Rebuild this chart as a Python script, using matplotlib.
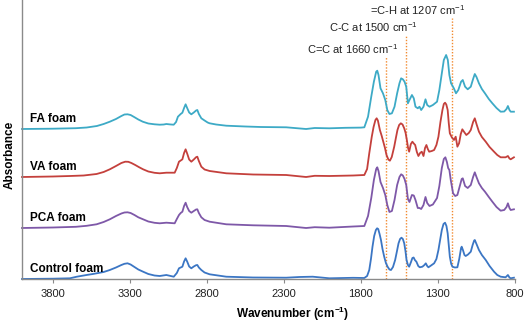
import matplotlib
matplotlib.use('Agg')
import matplotlib.pyplot as plt

plt.rcParams['font.family'] = ['Liberation Sans', 'DejaVu Sans']
plt.rcParams['mathtext.default'] = 'regular'

# FTIR spectra, absorbance above each trace's own baseline
fa_wn = [4000, 3800, 3650, 3580, 3514, 3470, 3430, 3390, 3355, 3335, 3315, 3295, 3270, 3245,
         3216, 3180, 3140, 3106, 3080, 3063, 3040, 3015, 3000, 2988, 2970, 2959, 2948, 2938,
         2928, 2915, 2901, 2885, 2870, 2862, 2852, 2836, 2815, 2795, 2782, 2740, 2674, 2550,
         2450, 2285, 2156, 2100, 2005, 1900, 1800,
         1778, 1754, 1733, 1716, 1701, 1694, 1686, 1673, 1657, 1642, 1629, 1615, 1599, 1582,
         1565, 1550, 1539, 1528, 1517, 1506, 1495, 1485, 1469, 1457, 1446, 1431, 1420, 1409,
         1394, 1381, 1370, 1355, 1333, 1306, 1291, 1275, 1262, 1247, 1236, 1226, 1215, 1197,
         1183, 1168, 1150, 1139, 1124, 1107, 1087, 1072, 1061, 1050, 1034, 1015, 995, 970, 947,
         920, 893, 870, 855, 846, 836, 828, 807]
fa_abs = [0, 0.003, 0.008, 0.015, 0.03, 0.05, 0.073, 0.10, 0.13, 0.145, 0.147, 0.14, 0.118,
          0.095, 0.073, 0.055, 0.047, 0.043, 0.045, 0.05, 0.046, 0.043, 0.07, 0.123, 0.15, 0.163,
          0.21, 0.247, 0.21, 0.165, 0.147, 0.165, 0.185, 0.19, 0.15, 0.107, 0.085, 0.065, 0.057,
          0.045, 0.033, 0.025, 0.02, 0.017, 0, 0.01, 0.007, 0.012, 0.014,
          0.017, 0.123, 0.323, 0.473, 0.573, 0.583, 0.54, 0.407, 0.357, 0.29, 0.19, 0.15, 0.157,
          0.223, 0.357, 0.457, 0.507, 0.497, 0.473, 0.423, 0.257, 0.29, 0.34, 0.307, 0.223,
          0.207, 0.223, 0.19, 0.223, 0.297, 0.24, 0.223, 0.24, 0.273, 0.39, 0.557, 0.69, 0.74,
          0.69, 0.54, 0.457, 0.407, 0.357, 0.39, 0.473, 0.49, 0.423, 0.397, 0.423, 0.50, 0.55,
          0.52, 0.457, 0.40, 0.357, 0.30, 0.257, 0.21, 0.173, 0.175, 0.20, 0.23, 0.19, 0.173,
          0.173]

va_wn = [4000, 3800, 3689, 3600, 3516, 3470, 3430, 3390, 3355, 3330, 3310, 3290, 3265, 3240,
         3214, 3180, 3140, 3106, 3063, 3009, 2995, 2981, 2965, 2959, 2948, 2938, 2928, 2915,
         2901, 2885, 2870, 2862, 2852, 2836, 2815, 2782, 2674, 2500, 2285, 2156, 2100, 2005,
         1850,
         1778, 1760, 1746, 1730, 1718, 1706, 1698, 1690, 1677, 1665, 1655, 1644, 1634, 1622,
         1612, 1600, 1584, 1572, 1563, 1552, 1541, 1530, 1519, 1510, 1502, 1494, 1487, 1476,
         1466, 1457, 1448, 1437, 1427, 1416, 1405, 1394, 1384, 1375, 1366, 1357, 1340, 1325,
         1310, 1297, 1284, 1271, 1262, 1254, 1246, 1237, 1230, 1223, 1210, 1196, 1185, 1174,
         1163, 1152, 1142, 1130, 1116, 1100, 1087, 1072, 1061, 1050, 1034, 1015, 990, 965, 936,
         915, 893, 861, 846, 836, 828, 807]
va_abs = [0, 0.005, 0.01, 0.015, 0.03, 0.05, 0.077, 0.11, 0.14, 0.153, 0.152, 0.14, 0.12, 0.098,
          0.077, 0.055, 0.042, 0.037, 0.043, 0.043, 0.09, 0.153, 0.17, 0.177, 0.24, 0.277, 0.235,
          0.175, 0.153, 0.175, 0.198, 0.203, 0.16, 0.103, 0.075, 0.06, 0.037, 0.025, 0.02, 0,
          0.012, 0.01, 0.015,
          0.02, 0.08, 0.237, 0.40, 0.50, 0.57, 0.587, 0.565, 0.47, 0.41, 0.353, 0.29, 0.22,
          0.175, 0.163, 0.20, 0.303, 0.40, 0.47, 0.52, 0.537, 0.525, 0.487, 0.44, 0.37, 0.29,
          0.253, 0.33, 0.353, 0.335, 0.32, 0.25, 0.21, 0.24, 0.253, 0.21, 0.29, 0.32, 0.28,
          0.253, 0.26, 0.27, 0.32, 0.403, 0.55, 0.67, 0.73, 0.743, 0.725, 0.67, 0.54, 0.437,
          0.397, 0.37, 0.403, 0.303, 0.337, 0.43, 0.477, 0.45, 0.42, 0.44, 0.47, 0.55, 0.587,
          0.53, 0.453, 0.40, 0.353, 0.30, 0.253, 0.22, 0.197, 0.197, 0.21, 0.185, 0.177, 0.197]

pca_wn = [4000, 3800, 3650, 3580, 3516, 3470, 3430, 3390, 3355, 3335, 3315, 3295, 3270, 3245,
          3214, 3180, 3140, 3106, 3063, 3009, 2995, 2981, 2970, 2959, 2948, 2938, 2928, 2915,
          2901, 2885, 2870, 2862, 2852, 2836, 2815, 2782, 2674, 2500, 2285, 2156, 2100, 2005,
          1850,
          1778, 1754, 1733, 1716, 1701, 1694, 1686, 1673, 1657, 1642, 1629, 1615, 1599, 1582,
          1565, 1550, 1539, 1528, 1517, 1506, 1495, 1485, 1469, 1457, 1446, 1431, 1420, 1409,
          1394, 1381, 1370, 1355, 1333, 1306, 1291, 1275, 1262, 1252, 1242, 1234, 1226, 1217,
          1202, 1188, 1174, 1160, 1146, 1139, 1124, 1107, 1087, 1072, 1061, 1050, 1034, 1015,
          995, 970, 947, 920, 893, 870, 855, 846, 836, 828, 807]
pca_abs = [0, 0.005, 0.012, 0.022, 0.037, 0.06, 0.087, 0.12, 0.145, 0.155, 0.157, 0.15, 0.13,
           0.107, 0.087, 0.065, 0.052, 0.047, 0.053, 0.047, 0.09, 0.13, 0.15, 0.163, 0.22, 0.253,
           0.21, 0.17, 0.153, 0.17, 0.185, 0.187, 0.15, 0.107, 0.08, 0.063, 0.037, 0.027, 0.02,
           0, 0.008, 0.003, 0.015,
           0.02, 0.12, 0.30, 0.48, 0.59, 0.607, 0.57, 0.46, 0.40, 0.33, 0.23, 0.16, 0.17, 0.28,
           0.43, 0.51, 0.537, 0.525, 0.49, 0.43, 0.29, 0.26, 0.33, 0.325, 0.28, 0.20, 0.20, 0.19,
           0.23, 0.31, 0.25, 0.22, 0.235, 0.30, 0.42, 0.60, 0.69, 0.707, 0.66, 0.60, 0.58, 0.48,
           0.347, 0.32, 0.33, 0.41, 0.49, 0.497, 0.42, 0.40, 0.43, 0.51, 0.557, 0.51, 0.447,
           0.40, 0.363, 0.31, 0.263, 0.21, 0.173, 0.18, 0.21, 0.247, 0.20, 0.18, 0.187]

ctrl_wn = [4000, 3800, 3689, 3644, 3581, 3540, 3470, 3430, 3390, 3355, 3335, 3315, 3295, 3270,
           3245, 3214, 3180, 3140, 3106, 3063, 3015, 2995, 2981, 2970, 2959, 2948, 2938, 2928,
           2915, 2901, 2885, 2870, 2862, 2852, 2836, 2815, 2782, 2674, 2500, 2285, 2200, 2113,
           2005, 1850,
           1778, 1760, 1746, 1735, 1725, 1714, 1703, 1695, 1688, 1679, 1670, 1660, 1649, 1638,
           1627, 1615, 1605, 1592, 1578, 1566, 1556, 1546, 1537, 1528, 1519, 1511, 1504, 1495,
           1487, 1475, 1466, 1458, 1450, 1440, 1428, 1418, 1401, 1388, 1379, 1370, 1362, 1345,
           1325, 1310, 1297, 1285, 1275, 1264, 1254, 1245, 1237, 1230, 1223, 1214, 1206, 1190,
           1174, 1162, 1150, 1146, 1138, 1128, 1120, 1105, 1087, 1075, 1065, 1061, 1050, 1034,
           1015, 990, 965, 936, 915, 893, 861, 846, 836, 828, 807]
ctrl_abs = [0, 0.003, 0.007, 0.023, 0.04, 0.05, 0.07, 0.09, 0.115, 0.14, 0.152, 0.157, 0.145,
            0.12, 0.095, 0.073, 0.05, 0.035, 0.03, 0.04, 0.023, 0.06, 0.107, 0.115, 0.123, 0.175,
            0.207, 0.175, 0.125, 0.107, 0.125, 0.138, 0.14, 0.115, 0.09, 0.065, 0.047, 0.023,
            0.015, 0.013, 0.02, 0.023, 0.007, 0.012,
            0.01, 0.03, 0.09, 0.20, 0.323, 0.43, 0.49, 0.507, 0.50, 0.45, 0.39, 0.30, 0.223, 0.16,
            0.123, 0.095, 0.09, 0.12, 0.19, 0.28, 0.357, 0.40, 0.413, 0.40, 0.357, 0.28, 0.19,
            0.14, 0.123, 0.17, 0.21, 0.215, 0.19, 0.173, 0.13, 0.117, 0.123, 0.14, 0.157, 0.13,
            0.117, 0.135, 0.157, 0.20, 0.29, 0.40, 0.49, 0.55, 0.563, 0.53, 0.457, 0.34, 0.223,
            0.15, 0.123, 0.115, 0.117, 0.20, 0.31, 0.323, 0.29, 0.24, 0.23, 0.245, 0.273, 0.34,
            0.385, 0.39, 0.35, 0.29, 0.24, 0.19, 0.13, 0.073, 0.04, 0.023, 0.017, 0.04, 0.015,
            0.007, 0.013]

names = ['FA foam', 'VA foam', 'PCA foam', 'Control foam']
offsets = [1.50, 1.02, 0.51, 0.0]
colors = ['#3DAAC6', '#C4403C', '#7E58A8', '#3B76C4']
spectra = [(fa_wn, fa_abs), (va_wn, va_abs), (pca_wn, pca_abs), (ctrl_wn, ctrl_abs)]

band_wn = [1635, 1505, 1210]
band_top = [2.22, 2.44, 2.61]
band_labels = ['C=C at 1660 cm$^{-1}$', 'C-C at 1500 cm$^{-1}$', '=C-H at 1207 cm$^{-1}$']
band_label_wn = [2150, 2010, 1740]

fig = plt.figure(figsize=(5.26, 3.23), dpi=100)
ax = fig.add_axes([22 / 526, 1 - 279 / 323, 493 / 526, 279 / 323])

# marker lines for the assigned bands
ax.vlines(band_wn, 0, band_top, colors='#F28A30', linestyles=(0, (1, 1.2)), linewidth=1.0)
for wn, top, lab in zip(band_label_wn, band_top, band_labels):
    ax.text(wn, top + 0.075, lab, fontsize=8, color='#222222', ha='left', va='center')

for (wn, ab), off, c, name in zip(spectra, offsets, colors, names):
    ax.plot(wn, [a + off for a in ab], color=c, linewidth=1.3, clip_on=False)
    ax.text(3945, off + 0.10, name, fontsize=8.5, fontweight='bold', ha='left', va='center')

ax.set_xlim(4000, 800)
ax.set_ylim(0, 2.79)
ax.set_xticks([3800, 3300, 2800, 2300, 1800, 1300, 800])
ax.set_yticks([])
for s in ['top', 'right']:
    ax.spines[s].set_visible(False)
for s in ['left', 'bottom']:
    ax.spines[s].set_color('#8A8A8A')
    ax.spines[s].set_linewidth(1.0)
ax.tick_params(axis='x', colors='#8A8A8A', length=3, pad=4, labelsize=8, labelcolor='#222222')

fig.text(10 / 526, 1 - 155 / 323, 'Absorbance', rotation=90, fontsize=8.5, fontweight='bold',
         ha='center', va='center')
fig.text(293 / 526, 1 - 314 / 323, 'Wavenumber (cm$^{-1}$)', fontsize=8.5, fontweight='bold',
         ha='center', va='center')

plt.savefig('out.png', dpi=100)
plt.close()
